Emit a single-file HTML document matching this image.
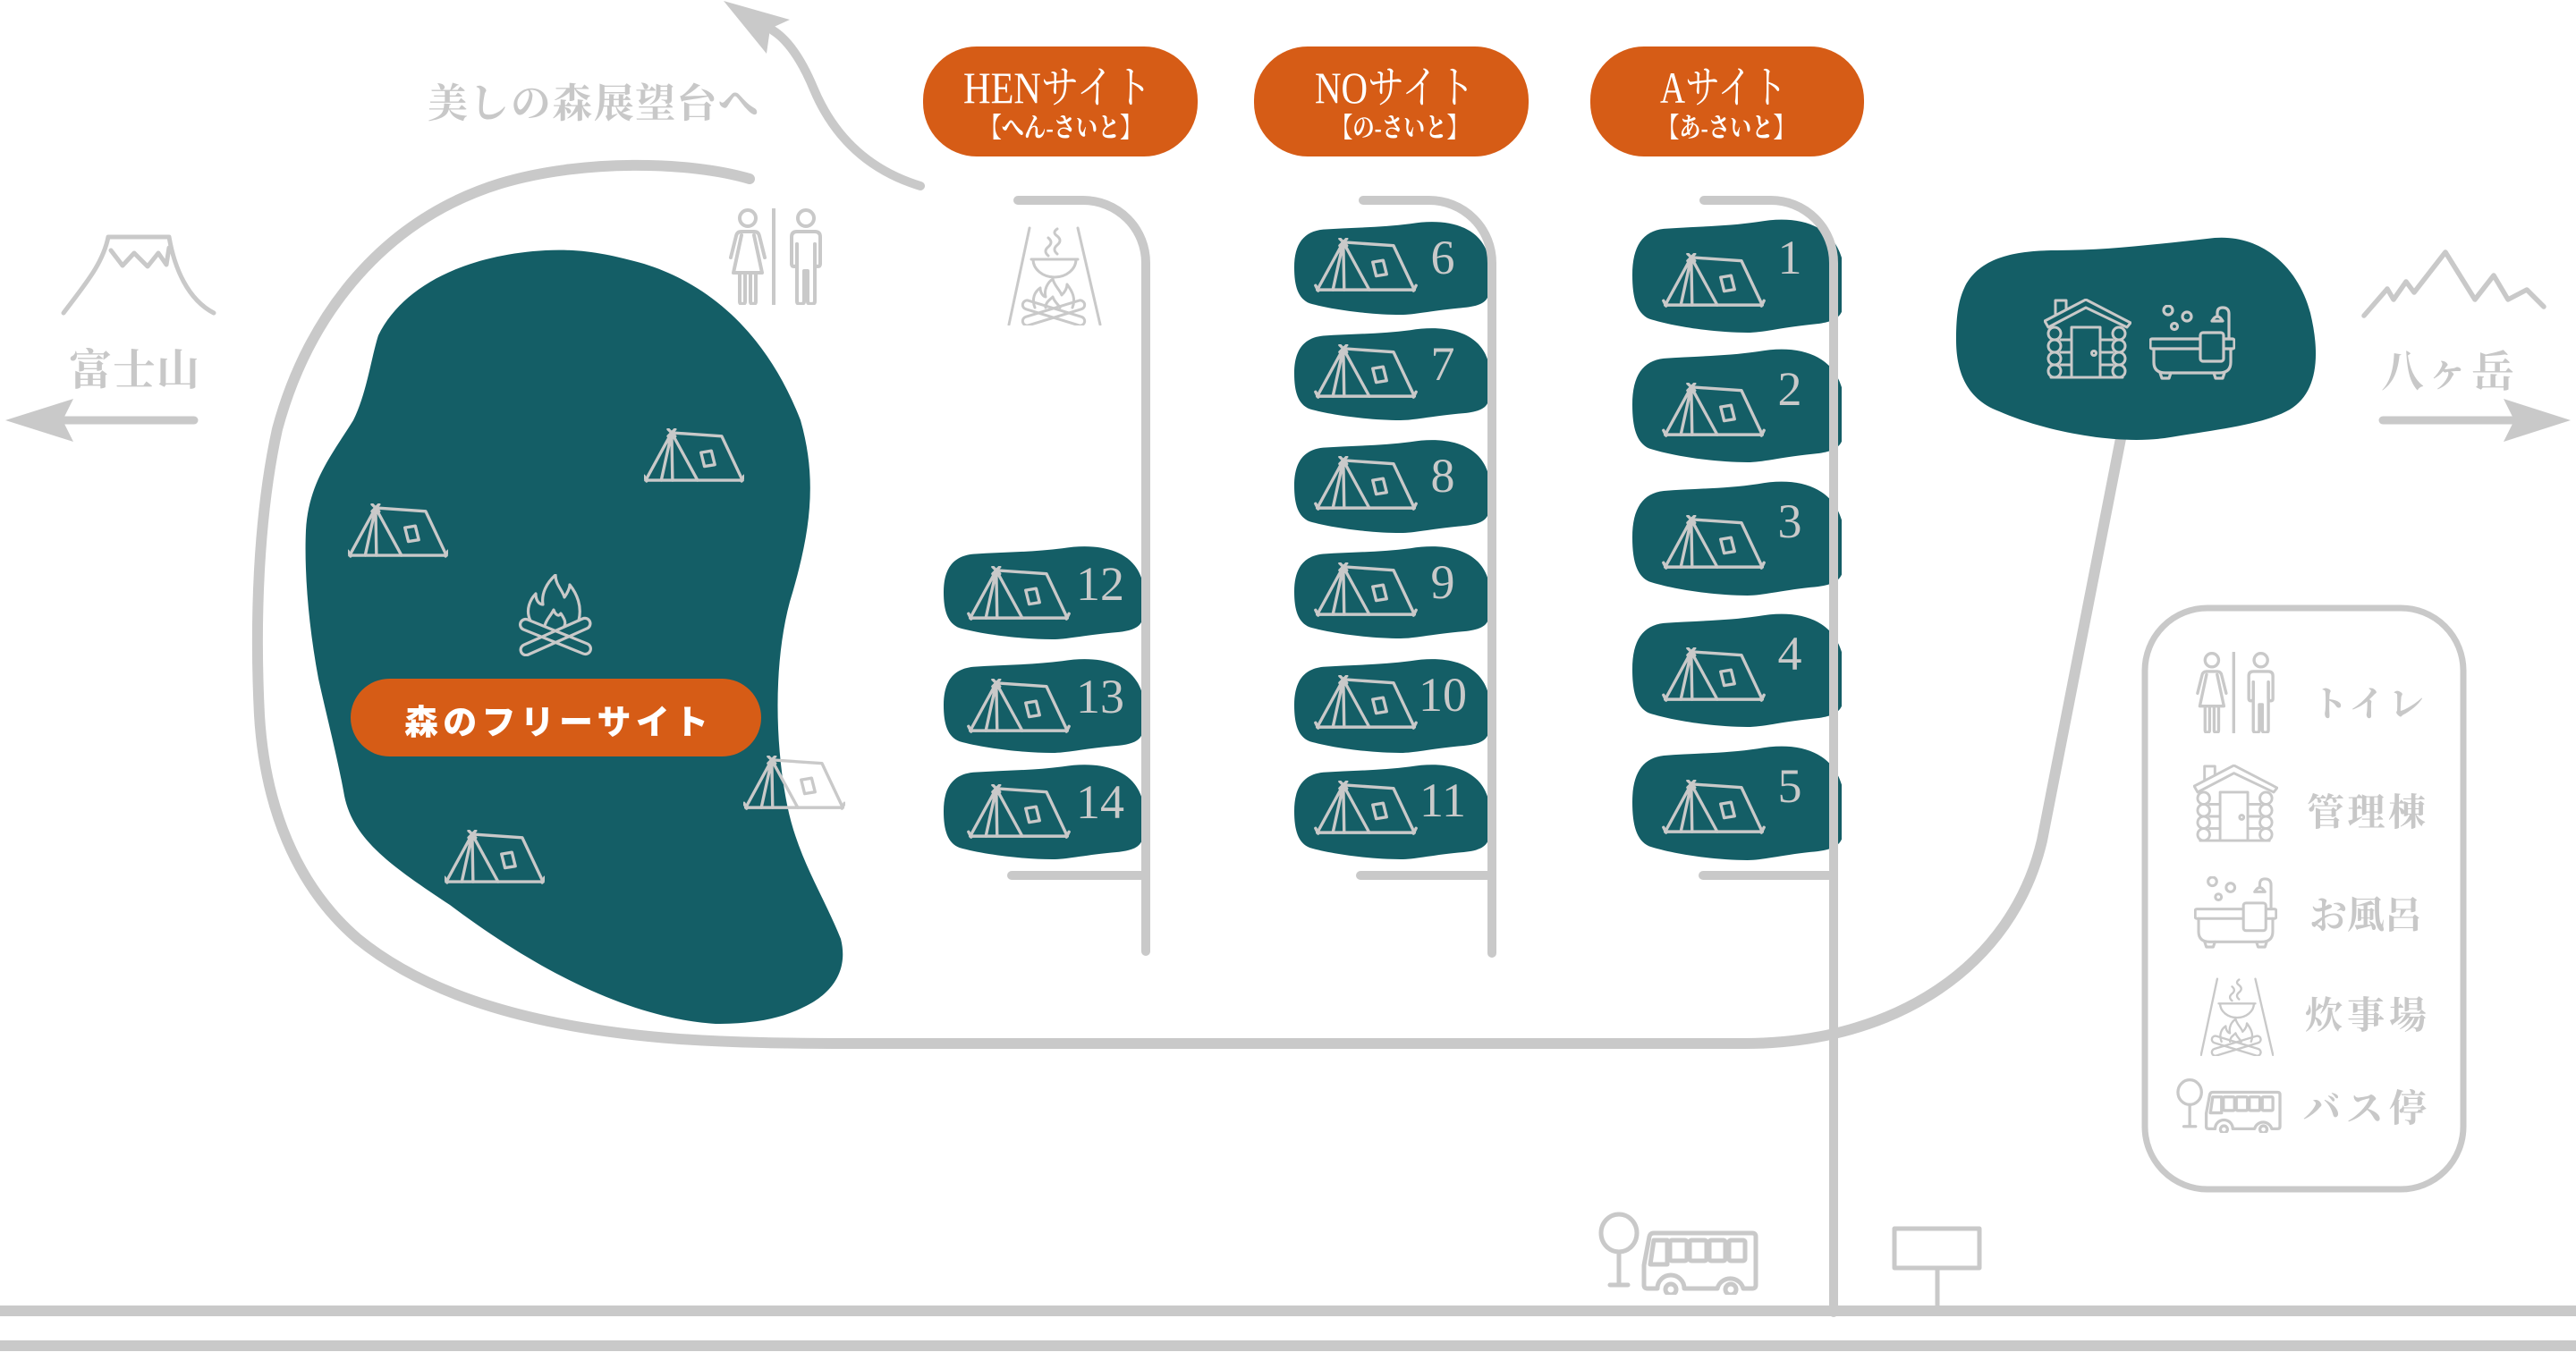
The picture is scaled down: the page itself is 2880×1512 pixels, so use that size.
<!DOCTYPE html>
<html><head><meta charset="utf-8">
<style>
html,body{margin:0;padding:0;background:#fff;}
svg{display:block;}
</style></head>
<body>
<svg width="2880" height="1512" viewBox="0 0 2880 1512" xmlns="http://www.w3.org/2000/svg" xmlns:xlink="http://www.w3.org/1999/xlink">
<style>
.g{fill:none;stroke:#c9c9c9;stroke-linecap:round;stroke-linejoin:round}
.lab{font-family:"Liberation Serif","Noto Serif CJK SC",serif;font-weight:bold;fill:#c8c8c8}
.num{font-family:"Liberation Serif",serif;fill:#c9c9c9;font-size:54px;text-anchor:middle}
.bt{font-family:"Liberation Serif","Noto Serif CJK SC",serif;fill:#fff;font-weight:normal}
.bs{font-family:"Liberation Serif","Noto Serif CJK SC",serif;fill:#fff;font-weight:bold}
</style>
<defs>
 <path id="pill" d="M0,50 C0,25 5,12 15,10 C30,8 45,8 60,4 C78,-2 95,5 100,35 L100,82 C98,90 92,92 85,93 C70,96 62,100 55,100 C40,100 20,95 8,88 C2,83 0,70 0,50 Z"/>
 <symbol id="tent" viewBox="0 0 116 64">
  <g class="g" stroke-width="3.5">
   <path d="M2,60 H114 M0,55 L3,61 M116,55 L113,61"/>
   <path d="M28,1 L36,9 M36,1 L28,9"/>
   <path d="M32,5 L2,60 M32,5 L20,60 M32,5 L33,60 M32,5 L62,60"/>
   <path d="M32,5 L90,9 L114,60"/>
   <path d="M66,28 L78,26 L82,42 L70,44 Z"/>
  </g>
 </symbol>
 <symbol id="toilet" viewBox="0 0 104 108">
  <g class="g" stroke-width="4">
   <circle cx="21" cy="11" r="9"/>
   <path d="M14,26 H28 Q33,26 34,31 L40,55 M14,26 Q9,26 8,31 L2,55"/>
   <path d="M14,30 L5,72 H37 L28,30"/>
   <path d="M12,72 V104 Q12,107 15,107 Q18,107 18,104 V72 M24,72 V104 Q24,107 27,107 Q30,107 30,104 V72"/>
   <line x1="50" y1="1" x2="50" y2="107"/>
   <circle cx="86" cy="11" r="9"/>
   <path d="M76,26 H96 Q102,26 102,32 V62 Q102,65 99,65 Q96,65 96,62 V40 M76,26 Q70,26 70,32 V62 Q70,65 73,65 Q76,65 76,62 V40"/>
   <path d="M76,40 V104 Q76,107 80,107 Q84,107 84,104 V70 H88 V104 Q88,107 92,107 Q96,107 96,104 V40"/>
  </g>
 </symbol>
 <symbol id="cabin" viewBox="0 0 98 90">
  <g class="g" stroke-width="3">
   <path d="M1,25 L47,1 L97,27 L93,32 L47,10 L5,32 Z"/>
   <path d="M13,18 V2 H25 V12"/>
   <ellipse cx="12" cy="39" rx="7" ry="7"/><ellipse cx="12" cy="53" rx="7" ry="7"/><ellipse cx="12" cy="67" rx="7" ry="7"/><ellipse cx="12" cy="81" rx="7" ry="7"/>
   <ellipse cx="84" cy="39" rx="7" ry="7"/><ellipse cx="84" cy="53" rx="7" ry="7"/><ellipse cx="84" cy="67" rx="7" ry="7"/><ellipse cx="84" cy="81" rx="7" ry="7"/>
   <rect x="31" y="32" width="32" height="56"/>
   <circle cx="56" cy="61" r="2.5"/>
   <path d="M19,46 H31 M19,60 H31 M19,74 H31 M63,46 H77 M63,60 H77 M63,74 H77 M8,88 H88"/>
  </g>
 </symbol>
 <symbol id="bath" viewBox="0 0 96 84">
  <g class="g" stroke-width="3.2">
   <circle cx="21" cy="6" r="5"/><circle cx="42" cy="13" r="5"/><circle cx="28" cy="24" r="3.5"/>
   <path d="M89,38 V10 Q89,3 82,3 Q76,3 76,9 V12"/>
   <path d="M70,18 Q76,8 82,18 Z"/>
   <rect x="1" y="38" width="94" height="11" rx="2"/>
   <path d="M5,49 V64 Q5,76 18,76 H78 Q91,76 91,64 V49"/>
   <path d="M12,76 L14,82 H22 L24,76 M72,76 L74,82 H82 L84,76"/>
   <rect x="57" y="31" width="26" height="32" rx="3" fill="currentColor"/>
  </g>
 </symbol>
 <symbol id="cook" viewBox="0 0 104 112">
  <g class="g" stroke-width="3">
   <path d="M24,3 L1,111 M78,3 L103,111"/>
   <path d="M26,38 H78 M28,38 A24,20 0 0 0 76,38"/>
   <path d="M45,34 q-6,-5 0,-10 q6,-5 0,-10 M55,32 q-6,-5 0,-10 q6,-5 0,-10 q-6,-4 0,-8"/>
   <path d="M30,92 C26,82 30,74 36,70 C36,76 40,80 42,80 C40,72 44,64 50,60 C52,68 58,72 60,78 C64,74 66,70 66,66 C72,74 76,82 72,92"/>
   <path d="M42,92 C42,86 46,84 50,80 C52,86 56,88 58,92"/>
   <rect x="-36" y="-5" width="72" height="10" rx="5" transform="translate(51,98) rotate(17)"/>
   <rect x="-36" y="-5" width="72" height="10" rx="5" transform="translate(51,98) rotate(-17)"/>
  </g>
 </symbol>
 <symbol id="fire" viewBox="0 0 84 92">
  <g class="g" stroke-width="3.2">
   <path d="M14,52 C8,40 14,28 20,22 C20,30 24,34 28,34 C26,22 32,10 42,1 C42,12 50,18 52,26 C56,20 58,16 58,12 C66,22 72,36 68,52"/>
   <path d="M30,58 C32,50 36,48 40,40 C42,46 46,48 48,44 C52,50 54,54 52,58"/>
   <rect x="-42" y="-6" width="84" height="12" rx="6" transform="translate(42,70) rotate(22)"/>
   <rect x="-42" y="-6" width="84" height="12" rx="6" transform="translate(42,70) rotate(-24)"/>
  </g>
 </symbol>
 <symbol id="busstop" viewBox="1784 1354 182 94">
  <g class="g" stroke-width="5">
   <ellipse cx="1810" cy="1379" rx="20" ry="21"/>
   <path d="M1810,1400 V1437 M1800,1437 H1820"/>
   <path d="M1844,1383 Q1845,1379 1849,1379 H1959 Q1963,1379 1963,1383 V1437 Q1963,1441 1959,1441 H1949 A15,15 0 0 0 1920,1441 H1883 A15,15 0 0 0 1853,1441 H1842 Q1838,1441 1838,1437 V1415 Z"/>
   <path d="M1849,1387 H1864 V1414 H1845 Z"/>
   <rect x="1867" y="1387" width="19" height="23" rx="2"/>
   <rect x="1889" y="1387" width="19" height="23" rx="2"/>
   <rect x="1911" y="1387" width="18" height="23" rx="2"/>
   <rect x="1933" y="1387" width="18" height="23" rx="2"/>
   <circle cx="1868" cy="1442" r="6"/><circle cx="1935" cy="1442" r="6"/>
  </g>
 </symbol>
</defs>

<!-- bottom roads -->
<path d="M0,1466 H2880" stroke="#c9c9c9" stroke-width="12"/>
<path d="M0,1505 H2880" stroke="#c9c9c9" stroke-width="12"/>

<!-- main loop road -->
<path class="g" stroke-width="12" d="M838,200 C770,180 650,178 560,205 C430,245 345,350 310,480 C288,580 285,700 290,800 C296,900 330,990 400,1050 C480,1115 600,1150 760,1162 C820,1166 880,1167 960,1167 L1950,1167 C2120,1167 2250,1080 2283,940 L2375,470"/>

<!-- top arrow road -->
<path class="g" stroke-width="10" d="M1029,208 C970,190 932,152 910,100 C896,66 880,44 864,34"/>
<polygon points="809,1 883,22 861,32 857,60" fill="#c9c9c9"/>

<!-- left arrow -->
<path class="g" stroke-width="9" d="M217,470 H60"/>
<polygon points="6,470 82,446 70,470 82,494" fill="#c9c9c9"/>
<!-- right arrow -->
<path class="g" stroke-width="9" d="M2664,470 H2820"/>
<polygon points="2874,470 2799,446 2811,470 2799,494" fill="#c9c9c9"/>

<!-- Fuji -->
<g class="g" stroke-width="5">
 <path d="M71,350 C95,318 115,295 121,265 H189 C195,300 210,335 239,350"/>
 <path d="M124,280 L137,297 L150,283 L165,298 L177,283 L186,296 L189,277"/>
</g>
<!-- Yatsugatake -->
<path class="g" stroke-width="5.5" d="M2643,353 L2669,323 L2676,335 L2690,315 L2699,327 L2734,282 L2767,335 L2788,308 L2804,335 L2825,324 L2844,343"/>

<!-- forest blob -->
<path fill="#145e66" d="M423,375 C450,320 520,285 610,280 C650,278 680,284 720,295 C800,320 860,380 895,470 C915,540 905,600 883,673 C865,740 866,830 880,900 C892,960 920,1000 940,1050 C950,1090 925,1115 895,1128 C870,1140 840,1145 800,1145 C720,1140 620,1100 503,1012 C440,970 395,940 385,890 C378,850 365,800 356,759 C345,700 340,640 342,593 C345,540 370,510 395,470 C410,440 415,400 423,375 Z"/>

<!-- cabin blob -->
<path fill="#145e66" d="M2197,320 C2215,285 2260,280 2300,280 C2360,280 2420,272 2476,266 C2530,262 2570,300 2583,350 C2595,400 2590,440 2560,458 C2530,475 2480,480 2420,490 C2360,498 2280,480 2235,460 C2195,445 2187,410 2187,380 C2187,350 2190,335 2197,320 Z"/>

<!-- free site icons -->
<use xlink:href="#tent" href="#tent" x="720" y="479" width="112" height="62"/>
<use xlink:href="#tent" href="#tent" x="389" y="563" width="112" height="62"/>
<use xlink:href="#fire" href="#fire" x="579" y="642" width="84" height="92"/>
<use xlink:href="#tent" href="#tent" x="831" y="845" width="114" height="62"/>
<use xlink:href="#tent" href="#tent" x="497" y="928" width="112" height="62"/>

<!-- free site label -->
<rect x="392" y="759" width="459" height="87" rx="43.5" fill="#d65c16"/>
<text x="452" y="821" font-size="38" textLength="340" lengthAdjust="spacing" fill="#fff" style="font-family:'Noto Sans CJK JP','Noto Sans CJK SC',sans-serif;font-weight:900">森のフリーサイト</text>

<!-- HEN pills -->
<use href="#pill" xlink:href="#pill" fill="#145e66" transform="translate(1055,609) scale(2.21,1.06)"/>
<use href="#pill" xlink:href="#pill" fill="#145e66" transform="translate(1055,735) scale(2.21,1.07)"/>
<use href="#pill" xlink:href="#pill" fill="#145e66" transform="translate(1055,853) scale(2.21,1.08)"/>
<!-- NO pills -->
<use href="#pill" xlink:href="#pill" fill="#145e66" transform="translate(1447,246) scale(2.16,1.06)"/>
<use href="#pill" xlink:href="#pill" fill="#145e66" transform="translate(1447,365) scale(2.16,1.05)"/>
<use href="#pill" xlink:href="#pill" fill="#145e66" transform="translate(1447,490) scale(2.16,1.06)"/>
<use href="#pill" xlink:href="#pill" fill="#145e66" transform="translate(1447,609) scale(2.16,1.05)"/>
<use href="#pill" xlink:href="#pill" fill="#145e66" transform="translate(1447,735) scale(2.16,1.07)"/>
<use href="#pill" xlink:href="#pill" fill="#145e66" transform="translate(1447,853) scale(2.16,1.08)"/>
<!-- A pills -->
<use href="#pill" xlink:href="#pill" fill="#145e66" transform="translate(1825,243) scale(2.34,1.29)"/>
<use href="#pill" xlink:href="#pill" fill="#145e66" transform="translate(1825,388) scale(2.34,1.29)"/>
<use href="#pill" xlink:href="#pill" fill="#145e66" transform="translate(1825,536) scale(2.34,1.30)"/>
<use href="#pill" xlink:href="#pill" fill="#145e66" transform="translate(1825,684) scale(2.34,1.29)"/>
<use href="#pill" xlink:href="#pill" fill="#145e66" transform="translate(1825,832) scale(2.34,1.30)"/>

<!-- column roads -->
<g class="g" stroke-width="10">
 <path d="M1138,224 H1211 A70,70 0 0 1 1281,294 V1064"/>
 <path d="M1131,979 H1281"/>
 <path d="M1524,224 H1598 A70,70 0 0 1 1668,294 V1066"/>
 <path d="M1521,979 H1668"/>
 <path d="M1905,224 H1980 A70,70 0 0 1 2050,294 V1468"/>
 <path d="M1904,979 H2050"/>
</g>

<!-- tents in pills -->
<use href="#tent" xlink:href="#tent" x="1081" y="633" width="116" height="62"/>
<use href="#tent" xlink:href="#tent" x="1081" y="759" width="116" height="62"/>
<use href="#tent" xlink:href="#tent" x="1081" y="877" width="116" height="62"/>
<use href="#tent" xlink:href="#tent" x="1469" y="266" width="116" height="62"/>
<use href="#tent" xlink:href="#tent" x="1469" y="385" width="116" height="62"/>
<use href="#tent" xlink:href="#tent" x="1469" y="510" width="116" height="62"/>
<use href="#tent" xlink:href="#tent" x="1469" y="629" width="116" height="62"/>
<use href="#tent" xlink:href="#tent" x="1469" y="755" width="116" height="62"/>
<use href="#tent" xlink:href="#tent" x="1469" y="873" width="116" height="62"/>
<use href="#tent" xlink:href="#tent" x="1858" y="283" width="116" height="62"/>
<use href="#tent" xlink:href="#tent" x="1858" y="428" width="116" height="62"/>
<use href="#tent" xlink:href="#tent" x="1858" y="576" width="116" height="62"/>
<use href="#tent" xlink:href="#tent" x="1858" y="724" width="116" height="62"/>
<use href="#tent" xlink:href="#tent" x="1858" y="872" width="116" height="62"/>

<!-- numbers -->
<text class="num" x="1230" y="671">12</text>
<text class="num" x="1230" y="797">13</text>
<text class="num" x="1230" y="915">14</text>
<text class="num" x="1613" y="306">6</text>
<text class="num" x="1613" y="425">7</text>
<text class="num" x="1613" y="550">8</text>
<text class="num" x="1613" y="669">9</text>
<text class="num" x="1613" y="795">10</text>
<text class="num" x="1613" y="913">11</text>
<text class="num" x="2001" y="306">1</text>
<text class="num" x="2001" y="453">2</text>
<text class="num" x="2001" y="601">3</text>
<text class="num" x="2001" y="749">4</text>
<text class="num" x="2001" y="897">5</text>

<!-- badges -->
<rect x="1032" y="52" width="307" height="123" rx="60" fill="#d65c16"/>
<rect x="1402" y="52" width="307" height="123" rx="60" fill="#d65c16"/>
<rect x="1778" y="52" width="306" height="123" rx="60" fill="#d65c16"/>
<text class="bt" x="1077" y="115" font-size="50" textLength="211" lengthAdjust="spacingAndGlyphs">HENサイト</text>
<text class="bs" x="1095" y="153" font-size="30" textLength="182" lengthAdjust="spacingAndGlyphs">【へん-さいと】</text>
<text class="bt" x="1470" y="115" font-size="50" textLength="179" lengthAdjust="spacingAndGlyphs">NOサイト</text>
<text class="bs" x="1488" y="153" font-size="30" textLength="154" lengthAdjust="spacingAndGlyphs">【の-さいと】</text>
<text class="bt" x="1856" y="115" font-size="50" textLength="142" lengthAdjust="spacingAndGlyphs">Aサイト</text>
<text class="bs" x="1853" y="153" font-size="30" textLength="154" lengthAdjust="spacingAndGlyphs">【あ-さいと】</text>

<!-- icons on map -->
<use href="#toilet" xlink:href="#toilet" x="815" y="233" width="104" height="108"/>
<use href="#cook" xlink:href="#cook" x="1126" y="252" width="106" height="112"/>
<use href="#cabin" xlink:href="#cabin" x="2285" y="334" width="98" height="90"/>
<use href="#bath" xlink:href="#bath" x="2403" y="341" width="96" height="84" color="#145e66"/>

<!-- bottom bus + sign -->
<use href="#busstop" xlink:href="#busstop" x="1784" y="1354" width="182" height="94"/>
<g class="g" stroke-width="5">
 <rect x="2118" y="1374" width="95" height="44"/>
 <path d="M2166,1418 V1462"/>
</g>

<!-- labels -->
<text class="lab" x="478" y="131" font-size="45" textLength="370" lengthAdjust="spacing">美しの森展望台へ</text>
<text class="lab" x="77" y="430" font-size="48" textLength="146" lengthAdjust="spacing">富士山</text>
<text class="lab" x="2662" y="432" font-size="48" textLength="149" lengthAdjust="spacing">八ヶ岳</text>

<!-- legend -->
<rect x="2398" y="680" width="356" height="650" rx="70" fill="none" stroke="#c9c9c9" stroke-width="7"/>
<use href="#toilet" xlink:href="#toilet" x="2455" y="729" width="88" height="91"/>
<use href="#cabin" xlink:href="#cabin" x="2452" y="855" width="95" height="87"/>
<use href="#bath" xlink:href="#bath" x="2453" y="980" width="93" height="81" color="#ffffff"/>
<use href="#cook" xlink:href="#cook" x="2460" y="1092" width="82" height="89"/>
<use href="#busstop" xlink:href="#busstop" x="2431" y="1205" width="120" height="62"/>
<text class="lab" x="2585" y="801" font-size="40" textLength="125" lengthAdjust="spacing">トイレ</text>
<text class="lab" x="2579" y="923" font-size="42" textLength="133" lengthAdjust="spacing">管理棟</text>
<text class="lab" x="2582" y="1038" font-size="42" textLength="126" lengthAdjust="spacing">お風呂</text>
<text class="lab" x="2577" y="1150" font-size="42" textLength="136" lengthAdjust="spacing">炊事場</text>
<text class="lab" x="2575" y="1254" font-size="42" textLength="138" lengthAdjust="spacing">バス停</text>
</svg>
</body></html>
